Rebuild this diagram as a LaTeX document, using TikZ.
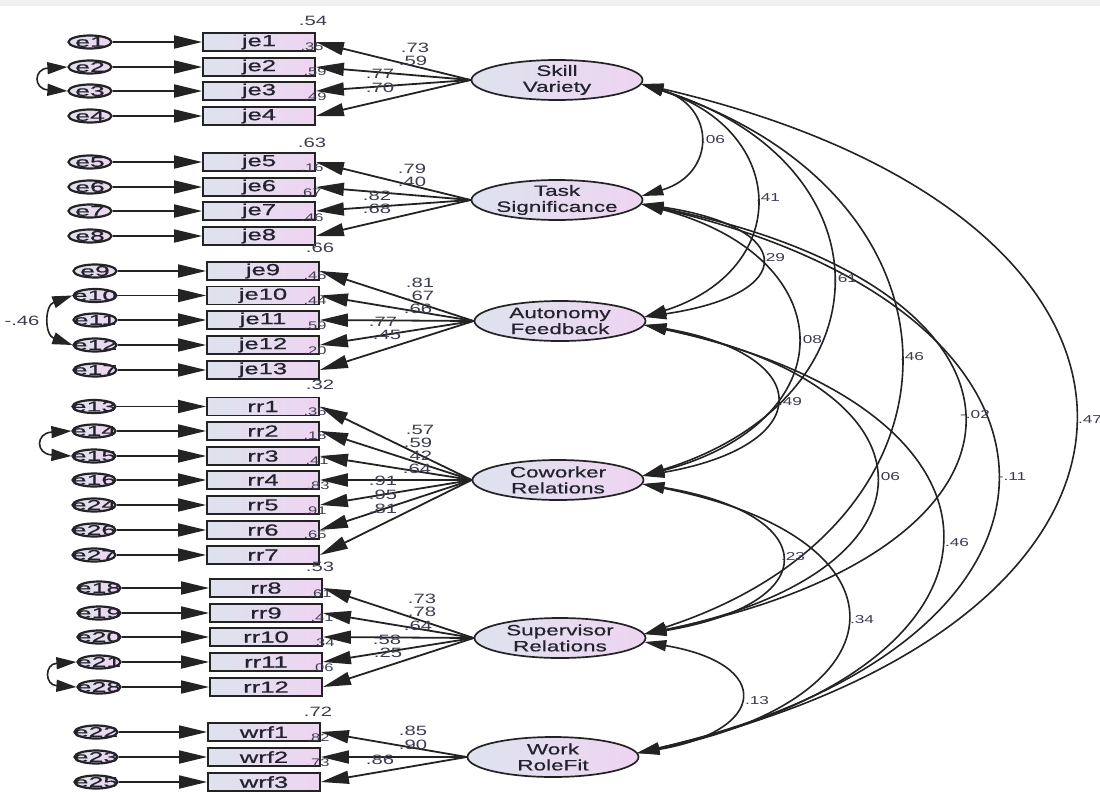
\documentclass[tikz,border=0pt]{standalone}
\usepackage{fontspec}
\setmainfont{Liberation Sans}
\newfontfamily\wfont[FakeStretch=1.6,FakeBold=0.8]{Liberation Sans}
\newfontfamily\lfont[FakeStretch=1.5,FakeBold=0.6]{Liberation Sans}
\newfontfamily\nfont[FakeStretch=1.5]{Liberation Sans}
\newfontfamily\efont[FakeStretch=1.9,FakeBold=0.8]{Liberation Sans}
\usetikzlibrary{arrows.meta,calc,shapes.geometric}
\definecolor{lb}{RGB}{222,227,238}
\definecolor{lp}{RGB}{238,212,242}
\definecolor{ink}{RGB}{35,35,45}
\definecolor{numc}{RGB}{60,62,80}
\definecolor{linec}{RGB}{35,35,35}
\begin{document}
\begin{tikzpicture}[x=1pt,y=-1pt,
  obs/.style={draw=linec,line width=1.8pt,left color=lb,right color=lp,minimum width=112pt,minimum height=18pt,inner sep=0pt,text=ink,font=\wfont\fontsize{16}{16}\selectfont},
  err/.style={ellipse,draw=linec,line width=2.2pt,left color=lb,right color=lp,minimum width=43pt,minimum height=13pt,inner sep=0pt},
  etxt/.style={inner sep=0pt,text=ink,font=\efont\fontsize{14}{14}\selectfont},
  lat/.style={ellipse,draw=linec,line width=1.7pt,left color=lb,right color=lp,minimum width=171pt,minimum height=40pt,inner sep=0pt},
  ltxt/.style={inner sep=0pt,align=center,text=ink,font=\lfont\fontsize{15}{16}\selectfont},
  num/.style={inner sep=0pt,text=numc,font=\nfont\fontsize{13.5}{13.5}\selectfont},
  smallnum/.style={inner sep=0pt,text=numc,font=\nfont\fontsize{11}{11}\selectfont},
  cnum/.style={inner sep=0pt,text=numc,font=\nfont\fontsize{11.5}{11.5}\selectfont},
  path/.style={draw=linec,line width=1.8pt,-{Triangle[length=28pt,width=13pt]}},
  cov/.style={draw=linec,line width=1.6pt,{Triangle[length=22pt,width=11pt]}-{Triangle[length=22pt,width=11pt]}},
  ecov/.style={draw=linec,line width=1.6pt,{Triangle[length=20pt,width=12pt]}-{Triangle[length=20pt,width=12pt]}}
]
\useasboundingbox (0,0) rectangle (1100,792);
\fill[white] (0,0) rectangle (1100,792);
\fill[black!6] (0,0) rectangle (1100,6);

% latent variables
\node[lat] (SV) at (557,80) {};
\node[ltxt] (tSV) at (SV) {Skill\\Variety};
\node[lat] (TS) at (557,200) {};
\node[ltxt] (tTS) at (TS) {Task\\Significance};
\node[lat] (AF) at (560,321) {};
\node[ltxt] (tAF) at (AF) {Autonomy\\Feedback};
\node[lat] (CR) at (558,480) {};
\node[ltxt] (tCR) at (CR) {Coworker\\Relations};
\node[lat] (SR) at (560,638) {};
\node[ltxt] (tSR) at (SR) {Supervisor\\Relations};
\node[lat] (WF) at (553,757) {};
\node[ltxt] (tWF) at (WF) {Work\\RoleFit};

% observed variables and errors
\foreach \b/\yy/\ee in {je1/42/e1,je2/67/e2,je3/91/e3,je4/116/e4,je5/162/e5,je6/187/e6,je7/211/e7,je8/236/e8}{
  \node[obs] (\b) at (259,\yy) {\b};
  \node[err] (\ee) at (90,\yy) {};
  \node[etxt] (t\ee) at (\ee) {\ee};
}
\foreach \b/\yy/\ee in {je9/271/e9,je10/295.5/e10,je11/320/e11,je12/345/e12,je13/370/e17}{
  \node[obs] (\b) at (263,\yy) {\b};
  \node[err] (\ee) at (95,\yy) {};
  \node[etxt] (t\ee) at (\ee) {\ee};
}
\foreach \b/\yy/\ee in {rr1/406.5/e13,rr2/431/e14,rr3/456/e15,rr4/480/e16,rr5/505/e24,rr6/530/e26,rr7/555/e27}{
  \node[obs] (\b) at (263,\yy) {\b};
  \node[err] (\ee) at (94,\yy) {};
  \node[etxt] (t\ee) at (\ee) {\ee};
}
\foreach \b/\yy/\ee in {rr8/588/e18,rr9/613/e19,rr10/637/e20,rr11/662/e21,rr12/687/e28}{
  \node[obs] (\b) at (266,\yy) {\b};
  \node[err] (\ee) at (99,\yy) {};
  \node[etxt] (t\ee) at (\ee) {\ee};
}
\foreach \b/\yy/\ee in {wrf1/732/e22,wrf2/757/e23,wrf3/782/e25}{
  \node[obs] (\b) at (264,\yy) {\b};
  \node[err] (\ee) at (96,\yy) {};
  \node[etxt] (t\ee) at (\ee) {\ee};
}

% squared multiple correlations
\foreach \x/\y/\t [count=\i] in {313/21/.54,312/143/.63,320/248/.66,320/385/.32,320/567/.53,318/712/.72}
  \node[num] (rsq\i) at (\x,\y) {\t};
\foreach \x/\y/\t [count=\i] in {312/47/.35,315/72/.59,315/97/.49,312/168/.16,310/193/.67,312/218/.46,315/276/.45,315/301/.44,315/326/.59,315/351/.20,315/412/.35,315/436/.18,317/461/.41,318/486/.83,315/511/.91,315/535/.65,320/594/.61,322/618/.41,323/643/.34,322/668/.06,318/738/.82,318/763/.73}
  \node[smallnum] (cr\i) at (\x,\y) {\t};

% error arrows
\foreach \b/\ee in {je1/e1,je2/e2,je3/e3,je4/e4,je5/e5,je6/e6,je7/e7,je8/e8,je9/e9,je10/e10,je11/e11,je12/e12,je13/e17,rr1/e13,rr2/e14,rr3/e15,rr4/e16,rr5/e24,rr6/e26,rr7/e27,rr8/e18,rr9/e19,rr10/e20,rr11/e21,rr12/e28,wrf1/e22,wrf2/e23,wrf3/e25}
  \draw[path] (\ee) -- (\b);

% loadings
\foreach \b in {je1,je2,je3,je4} \draw[path] (SV.west) -- (\b.east);
\foreach \b in {je5,je6,je7,je8} \draw[path] (TS.west) -- (\b.east);
\foreach \b in {je9,je10,je11,je12,je13} \draw[path] (AF.west) -- (\b.east);
\foreach \b in {rr1,rr2,rr3,rr4,rr5,rr6,rr7} \draw[path] (CR.west) -- (\b.east);
\foreach \b in {rr8,rr9,rr10,rr11,rr12} \draw[path] (SR.west) -- (\b.east);
\foreach \b in {wrf1,wrf2,wrf3} \draw[path] (WF.west) -- (\b.east);

\foreach \x/\y/\t [count=\i] in {415/48/.73,413/61/.59,380/74/.77,380/88/.70,
  412/169/.79,412/182/.40,377/196/.82,377/209/.68,
  420/283/.81,420/296/.67,418/309/.66,383/322/.77,387/335/.45,
  420/430/.57,418/443/.59,418/456/.42,417/469/.64,383/481/.91,383/495/.95,383/509/.81,
  422/599/.73,422/612/.78,418/626/.64,387/640/.58,388/653/.25,
  413/731/.85,413/745/.90,380/760/.86}
  \node[num] (ld\i) at (\x,\y) {\t};

% error covariances
\draw[ecov] (e2.west) .. controls +(-34,2) and +(-34,-2) .. (e3.west);
\draw[ecov] (e10.west) .. controls +(-28,10) and +(-28,-10) .. (e12.west);
\node[num] (c1012) at (22,321) {-.46};
\draw[ecov] (e14.west) .. controls +(-36,2) and +(-36,-2) .. (e15.west);
\draw[ecov] (e21.west) .. controls +(-32,2) and +(-32,-2) .. (e28.west);

% factor covariances
\newcommand\covarc[4]{\draw[cov] ($(#1.east)+(-2,4)$) .. controls +(#3,#4) and +(#3,-#4) .. ($(#2.east)+(-2,-4)$);}
\covarc{SV}{TS}{75}{22}
\covarc{SV}{AF}{148}{47}
\covarc{SV}{CR}{251}{78}
\covarc{SV}{SR}{340}{110}
\covarc{SV}{WF}{577}{134}
\covarc{TS}{AF}{155}{23}
\covarc{TS}{CR}{204}{54}
\covarc{TS}{SR}{424}{86}
\covarc{TS}{WF}{473}{110}
\covarc{AF}{CR}{174}{30}
\covarc{AF}{SR}{305}{62}
\covarc{AF}{WF}{397}{86}
\covarc{CR}{SR}{181}{30}
\covarc{CR}{WF}{273}{54}
\covarc{SR}{WF}{130}{22}

\foreach \x/\y/\t [count=\i] in {713/140/.06,768/198/.41,845/279/.61,912/357/.46,1090/420/.47,
  773/258/.29,810/340/.08,975/415/-.02,1012/477/-.11,
  790/402/.49,888/477/.06,957/543/.46,
  793/557/.23,862/620/.34,757/701/.13}
  \node[cnum] (cv\i) at (\x,\y) {\t};
\end{tikzpicture}
\end{document}
